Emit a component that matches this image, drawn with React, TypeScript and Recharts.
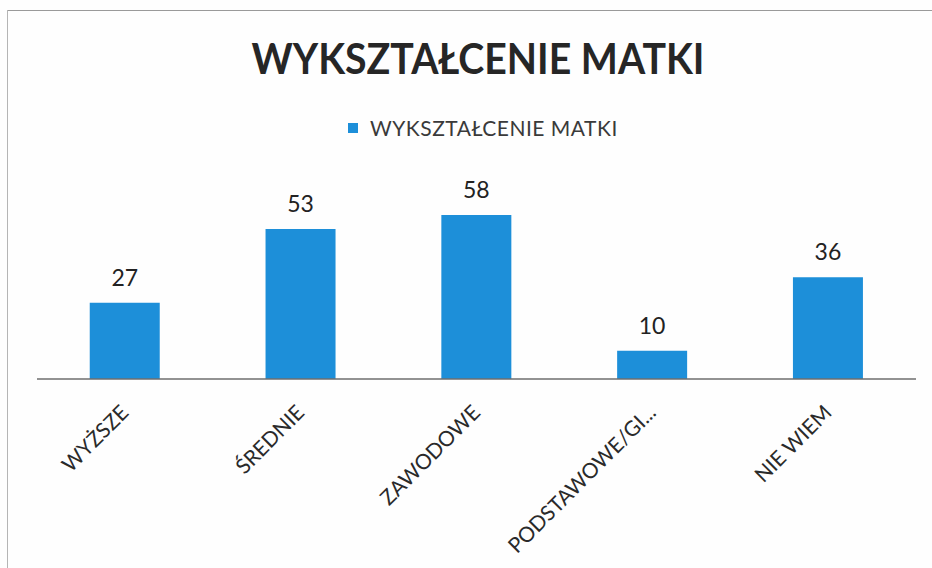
import { BarChart, Bar, XAxis, YAxis, Legend, LabelList } from "recharts";

const categories = ["WYŻSZE", "ŚREDNIE", "ZAWODOWE", "PODSTAWOWE/GI...", "NIE WIEM"];
const counts = [27, 53, 58, 10, 36];
const seriesName = "WYKSZTAŁCENIE MATKI";
const chartTitle = "WYKSZTAŁCENIE MATKI";

const data = categories.map((name, i) => ({ name, value: counts[i] }));

const BLUE = "#1d8fd9";
const FONT = "Lato, 'Open Sans', sans-serif";

function CategoryTick(props: any) {
  const { x, payload } = props;
  return (
    <text
      transform={`translate(${x + 5},414) rotate(-45)`}
      textAnchor="end"
      fontSize={21}
      fontFamily={FONT}
      fill="#2a2a2a"
    >
      {payload.value}
    </text>
  );
}

function LegendBox() {
  return (
    <div style={{ display: "flex", alignItems: "center", fontFamily: FONT, fontSize: 21, letterSpacing: 0.5, color: "#3a3a3a", whiteSpace: "nowrap" }}>
      <span style={{ width: 10, height: 10, background: BLUE, display: "inline-block", marginRight: 12 }} />
      {seriesName}
    </div>
  );
}

export default function App() {
  return (
    <div style={{ position: "absolute", left: 0, top: 0, width: 932, height: 568, background: "#fefefe", overflow: "hidden" }}>
      {/* scanned frame edges */}
      <div style={{ position: "absolute", left: 7, top: 10, width: 925, height: 1, background: "#9a9a9a" }} />
      <div style={{ position: "absolute", left: 7, top: 10, width: 1, height: 560, background: "#b5b5b5" }} />
      <svg width={932} height={100} style={{ position: "absolute", left: 0, top: 0 }}>
        <text
          x={478}
          y={74}
          textAnchor="middle"
          fontFamily={FONT}
          fontWeight={700}
          fontSize={42}
          fill="#262626"
          textLength={453}
          lengthAdjust="spacingAndGlyphs"
        >
          {chartTitle}
        </text>
      </svg>
      <div style={{ position: "absolute", left: 0, top: 0 }}>
        <BarChart
          width={932}
          height={568}
          data={data}
          margin={{ top: 181, right: 16, bottom: 39, left: 37 }}
          barCategoryGap="30%"
        >
          <XAxis
            dataKey="name"
            height={150}
            interval={0}
            tickLine={false}
            axisLine={{ stroke: "#6e6e6e", strokeWidth: 1.5 }}
            tick={<CategoryTick />}
          />
          <YAxis hide domain={[0, 70]} />
          <Legend
            verticalAlign="middle"
            wrapperStyle={{ position: "absolute", top: 115, left: 348, width: "auto" }}
            content={<LegendBox />}
          />
          <Bar dataKey="value" name={seriesName} fill={BLUE} isAnimationActive={false}>
            <LabelList dataKey="value" position="top" offset={17} fontSize={23} fontFamily={FONT} fill="#222" />
          </Bar>
        </BarChart>
      </div>
    </div>
  );
}
